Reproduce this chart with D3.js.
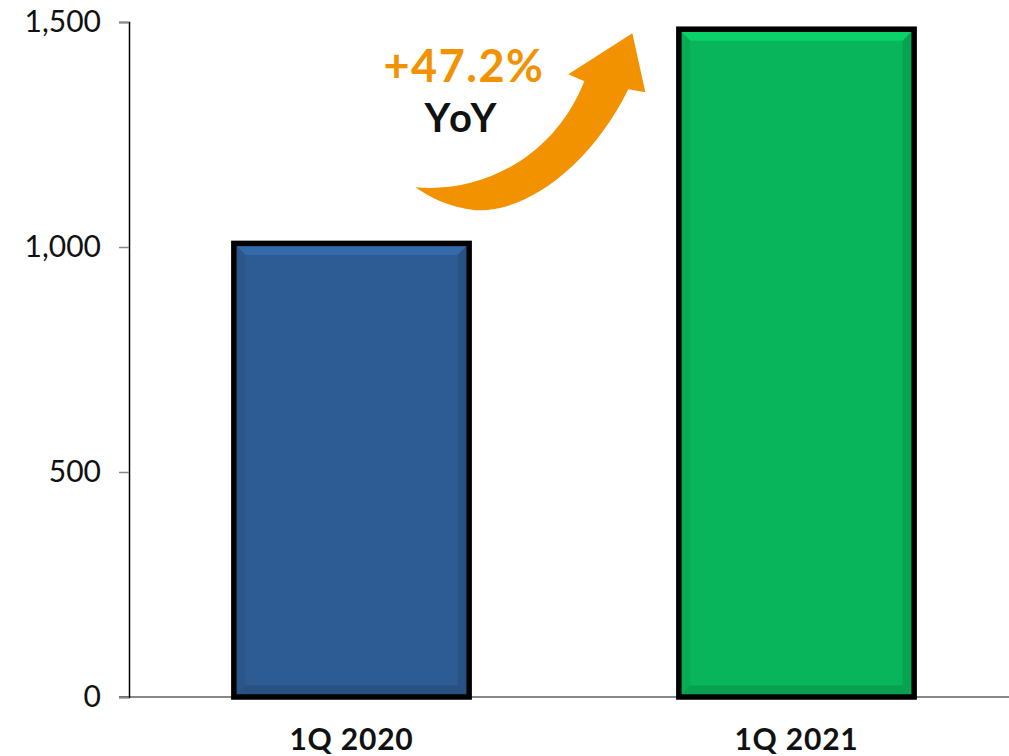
<!DOCTYPE html>
<html>
<head>
<meta charset="utf-8">
<script src="https://cdn.jsdelivr.net/npm/d3@7"></script>
<style>
  body { margin: 0; background: #fff; }
  svg { display: block; }
  text { font-family: Lato, "Open Sans", sans-serif; }
</style>
</head>
<body>
<svg id="chart"></svg>
<script>
const categories = ["1Q 2020", "1Q 2021"];
const values = [1008, 1484];
const barColors = ["#2D5B93", "#09B55A"];
const yTicks = [0, 500, 1000, 1500];
const growthLabel = "+47.2%";
const growthSub = "YoY";

const width = 1009, height = 756;

const svg = d3.select("#chart")
  .attr("width", width)
  .attr("height", height);

const x = d3.scaleBand()
  .domain(categories)
  .range([129, 1019])
  .paddingInner(0.46)
  .paddingOuter(0.23);

const y = d3.scaleLinear()
  .domain([0, 1500])
  .range([697, 22]);

// baseline
svg.append("line")
  .attr("x1", 119).attr("x2", width)
  .attr("y1", y(0)).attr("y2", y(0))
  .attr("stroke", "#888").attr("stroke-width", 2);

// y axis
const yAxis = svg.append("g")
  .attr("transform", "translate(129,0)")
  .call(d3.axisLeft(y).tickValues(yTicks).tickSize(10).tickPadding(18)
    .tickFormat(d3.format(",")));
yAxis.select(".domain").attr("stroke", "#000").attr("stroke-width", 1.5);
yAxis.selectAll(".tick line").attr("stroke", "#888").attr("stroke-width", 1.5);
yAxis.selectAll(".tick text")
  .attr("font-size", 30)
  .attr("fill", "#111")
  .style("font-family", "Lato, sans-serif");

// bars with a soft bevel
const bev = 9;
const bars = svg.append("g")
  .selectAll("g")
  .data(categories)
  .join("g");

bars.each(function (d, i) {
  const g = d3.select(this);
  const x0 = x(d) + 2.5, x1 = x(d) + x.bandwidth() - 2.5;
  const y0 = y(values[i]), y1 = y(0);
  const c = d3.color(barColors[i]);
  g.append("rect")
    .attr("x", x0).attr("y", y0)
    .attr("width", x1 - x0).attr("height", y1 - y0)
    .attr("fill", barColors[i]);
  const ix0 = x0 + 2.5, ix1 = x1 - 2.5, iy0 = y0 + 2.5, iy1 = y1 - 2.5;
  g.append("polygon")
    .attr("points", [[ix0, iy0], [ix1, iy0], [ix1 - bev, iy0 + bev], [ix0 + bev, iy0 + bev]].join(" "))
    .attr("fill", c.brighter(0.4));
  g.append("polygon")
    .attr("points", [[ix0, iy0], [ix0 + bev, iy0 + bev], [ix0 + bev, iy1 - bev], [ix0, iy1]].join(" "))
    .attr("fill", c.darker(0.15));
  g.append("polygon")
    .attr("points", [[ix1, iy0], [ix1 - bev, iy0 + bev], [ix1 - bev, iy1 - bev], [ix1, iy1]].join(" "))
    .attr("fill", c.darker(0.3));
  g.append("polygon")
    .attr("points", [[ix0, iy1], [ix0 + bev, iy1 - bev], [ix1 - bev, iy1 - bev], [ix1, iy1]].join(" "))
    .attr("fill", c.darker(0.35));
  g.append("rect")
    .attr("x", x0).attr("y", y0)
    .attr("width", x1 - x0).attr("height", y1 - y0)
    .attr("fill", "none")
    .attr("stroke", "#000").attr("stroke-width", 5.5);
});

// category labels
svg.append("g")
  .selectAll("text")
  .data(categories)
  .join("text")
  .attr("x", d => x(d) + x.bandwidth() / 2)
  .attr("y", 750)
  .attr("text-anchor", "middle")
  .attr("font-size", 30)
  .attr("font-weight", "bold")
  .attr("letter-spacing", 0.8)
  .attr("fill", "#111")
  .text(d => d);

// growth arrow, placed relative to the second bar
const ax = x(categories[1]) - 44, ay = y(values[1]) + 4;
svg.append("path")
  .attr("transform", `translate(${ax - 632},${ay - 32})`)
  .attr("d", "M415,186 C470,192 550,165 584,80 L568,73 L632,32 L645,91 L628,88 C590,165 525,212 475,209 C448,206 430,196 415,186 Z")
  .attr("fill", "#F39200");

svg.append("text")
  .attr("x", 464).attr("y", 82)
  .attr("text-anchor", "middle")
  .attr("font-size", 45)
  .attr("font-weight", "bold")
  .attr("letter-spacing", 1.5)
  .attr("fill", "#F39200")
  .text(growthLabel);

svg.append("text")
  .attr("x", 462).attr("y", 132)
  .attr("text-anchor", "middle")
  .attr("font-size", 40)
  .attr("font-weight", "bold")
  .attr("letter-spacing", 3)
  .attr("fill", "#111")
  .text(growthSub);
</script>
</body>
</html>
